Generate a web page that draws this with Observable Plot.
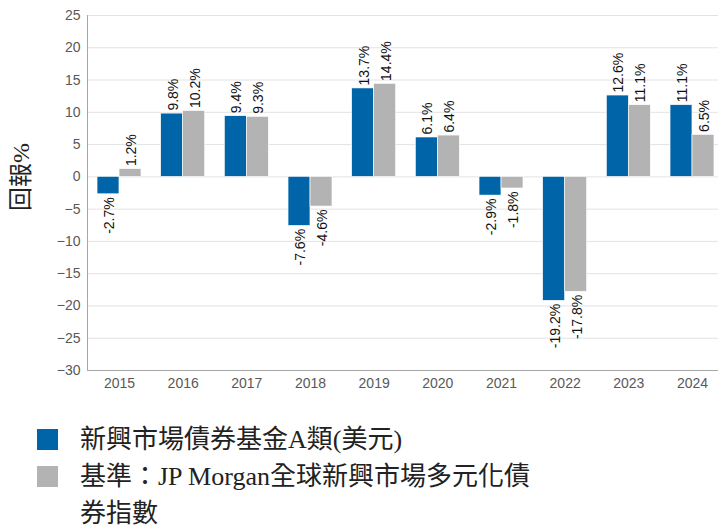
<!DOCTYPE html>
<html>
<head>
<meta charset="utf-8">
<script src="https://cdn.jsdelivr.net/npm/d3@7"></script>
<script src="https://cdn.jsdelivr.net/npm/@observablehq/plot@0.6"></script>
<style>
  html, body { margin: 0; padding: 0; background: #fff; }
  #wrap { width: 718px; height: 532px; position: relative; overflow: hidden; }
  #legend { position: absolute; left: 0; top: 421px; font-family: "Liberation Serif", "Noto Sans CJK TC", serif; font-size: 26px; color: #222; line-height: 37px; }
  .item { position: relative; padding-left: 80px; width: 462px; }
  .sw { position: absolute; left: 37px; top: 8px; width: 21px; height: 21px; }
</style>
</head>
<body>
<div id="wrap"></div>
<script>
const years = ["2015","2016","2017","2018","2019","2020","2021","2022","2023","2024"];
const fund = [-2.7, 9.8, 9.4, -7.6, 13.7, 6.1, -2.9, -19.2, 12.6, 11.1];
const bench = [1.2, 10.2, 9.3, -4.6, 14.4, 6.4, -1.8, -17.8, 11.1, 6.5];
const seriesNames = ["新興市場債券基金A類(美元)", "基準：JP Morgan全球新興市場多元化債券指數"];
const colors = ["#0064A8", "#B3B3B3"];
const yTicks = [-30, -25, -20, -15, -10, -5, 0, 5, 10, 15, 20, 25];
const yLabel = ["回報%"];

const data = years.flatMap((yr, i) => [
  {year: yr, s: 0, value: fund[i]},
  {year: yr, s: 1, value: bench[i]}
]);
const fmt = d => d.value.toFixed(1) + "%";
const half = 22;

const labelMark = (s, pos) => Plot.text(data.filter(d => d.s === s && (pos ? d.value >= 0 : d.value < 0)), {
  x: "year", y: "value", text: fmt, rotate: -90,
  textAnchor: pos ? "start" : "end",
  dx: s === 0 ? -10 : 12, dy: pos ? -3 : 3,
  fill: "#111", fontSize: 14
});

const chart = Plot.plot({
  width: 718, height: 400,
  marginLeft: 87, marginRight: 0, marginTop: 15, marginBottom: 30,
  style: {fontFamily: "'Liberation Sans', Arial, sans-serif", fontSize: "14px", color: "#595959", background: "#fff"},
  x: {domain: years, range: [77.3, 733.7], padding: 0.31, round: false, label: null},
  y: {domain: [-30, 25], label: null},
  marks: [
    Plot.gridY(yTicks, {stroke: "#e3e3e3", strokeOpacity: 1}),
    Plot.barY(data.filter(d => d.s === 0), {x: "year", y: "value", fill: colors[0], insetRight: half, stroke: "#fff", strokeWidth: 0.6}),
    Plot.barY(data.filter(d => d.s === 1), {x: "year", y: "value", fill: colors[1], insetLeft: half, stroke: "#fff", strokeWidth: 0.6}),
    Plot.frame({anchor: "left", stroke: "#a6a6a6"}),
    Plot.ruleY([-30], {stroke: "#a6a6a6"}),
    Plot.axisY(yTicks, {tickSize: 0, tickPadding: 7, label: null, fill: "#595959", fontSize: 14}),
    Plot.axisX({tickSize: 0, tickPadding: 8, label: null, fill: "#595959", fontSize: 14}),
    labelMark(0, true), labelMark(0, false), labelMark(1, true), labelMark(1, false),
    Plot.text(yLabel, {frameAnchor: "left", dx: -66, dy: -16, rotate: -90, textAnchor: "middle",
      fontSize: 24, fill: "#222", fontFamily: "'Liberation Serif', 'Noto Sans CJK TC', serif"})
  ]
});
const wrap = document.getElementById("wrap");
wrap.appendChild(chart);

const legend = document.createElement("div");
legend.id = "legend";
seriesNames.forEach((n, i) => {
  const it = document.createElement("div");
  it.className = "item";
  const sw = document.createElement("span");
  sw.className = "sw";
  sw.style.background = colors[i];
  it.appendChild(sw);
  it.appendChild(document.createTextNode(n));
  legend.appendChild(it);
});
wrap.appendChild(legend);
</script>
</body>
</html>
